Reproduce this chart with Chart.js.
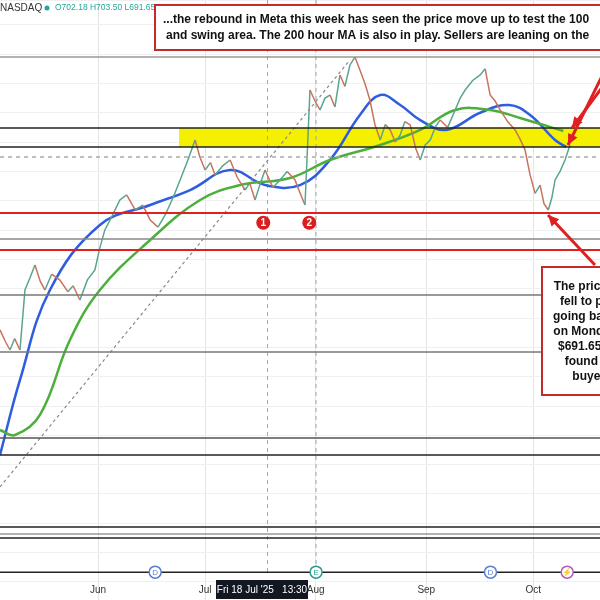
<!DOCTYPE html>
<html>
<head>
<meta charset="utf-8">
<script src="https://cdn.jsdelivr.net/npm/chart.js@4"></script>
<style>
  html, body { margin: 0; padding: 0; background: #fff; }
  #wrap { width: 600px; height: 600px; }
</style>
</head>
<body>
<div id="wrap"><canvas id="metaChart"></canvas></div>
<script>
// x values are days counted from 1 May 2025
const priceDays = [3.5, 5, 6.3, 7.6, 9.1, 10.5, 12, 13.3, 14.8, 16.1, 18, 20.3, 22.5, 24, 25.9, 28, 30.1, 31.5, 32.9, 35, 37.1, 39, 41.4, 43.5, 45.6, 47.8, 49.8, 52, 54, 56.2, 58.2, 59.5, 61, 62.5, 63.8, 66, 68, 70, 72.2, 73.5, 75, 76.5, 77.8, 80, 82, 84, 86.2, 87.5, 89, 90.4, 91.8, 93.2, 94.6, 96, 97.4, 98.8, 100.2, 101.6, 103, 104.4, 105.8, 107.2, 108.6, 110.1, 111.5, 112.9, 114.3, 115.7, 117, 118.5, 120, 121.3, 122.7, 124.1, 125.5, 126.9, 129, 131.1, 132.5, 133.9, 136, 138.1, 139.5, 140.9, 142.3, 143.7, 145.8, 147.9, 149.3, 150.7, 151.4, 152.1, 153.5, 154.9, 156, 157.2, 158.2, 159.1, 160.5, 161.9, 163.3];
const closes = [611.9, 604, 598.2, 606, 598.2, 639.1, 648, 656.2, 645, 639.1, 650, 645.9, 638, 642, 632.3, 646, 652.8, 668, 680.1, 690, 700.5, 704, 693.7, 697, 686.9, 682, 690.3, 702, 714.2, 728, 741.4, 730, 721.0, 726, 717.6, 724, 727.8, 716, 707.3, 712, 700.5, 712, 721.0, 709, 714.2, 720, 714.2, 706, 697.1, 775.5, 768, 761.9, 770, 772.1, 764, 785.8, 778, 792.6, 798, 789.2, 780, 768.7, 752, 741.4, 752, 748.3, 740, 744.9, 754, 751.7, 736, 727.8, 738, 741.4, 750, 755.1, 750, 761.9, 770, 775.5, 782, 785.8, 790, 772.1, 768, 761.9, 754, 748.3, 742, 734.6, 726, 717.6, 705, 710.7, 698, 693.7, 702, 714.2, 720, 727.8, 738.2];

const ma100Days = [3.5, 9.1, 17.5, 31.5, 45.6, 56.8, 68.0, 77.8, 87.6, 96.0, 104.4, 110.1, 115.7, 121.3, 128.6, 138.1, 146.2, 152.1, 159.1, 162.2];
const ma100 = [526.6, 577.8, 639.1, 683.5, 697.1, 707.3, 721.0, 710.7, 710.7, 727.8, 758.5, 772.1, 765.3, 755.0, 748.3, 760.0, 765.3, 758.5, 741.4, 736.7];

const ma200Days = [3.5, 7.7, 14.7, 23.1, 31.5, 45.6, 59.6, 70.8, 84.8, 96.0, 110.1, 121.3, 131.1, 140.9, 149.3, 161.4];
const ma200 = [543.6, 540.2, 553.9, 605.0, 639.1, 673.2, 700.5, 710.7, 715.5, 727.8, 738.0, 748.3, 761.9, 761.9, 756.4, 747.6];

const trendDays = [3.5, 101.6];
const trendPrices = [504.8, 796.0];

const levels = [798.0, 749.6, 736.7, 729.8, 691.65, 673.9, 666.4, 635.7, 596.9, 538.2, 526.6, 477.5, 472.7, 470.0, 446.7];
const levelColors = ["#999", "#222", "#222", "#aaa", "#e02020", "#888", "#e02020", "#777", "#777", "#555", "#222", "#222", "#999", "#222", "#222"];
const zoneLow = 736.7, zoneHigh = 749.6, zoneStart = 53.7;

const monthDays = [31, 61, 92, 123, 153];
const monthLabels = ["Jun", "Jul", "Aug", "Sep", "Oct"];
const swingDays = [77.3, 90.2];
const swingLabels = ["1", "2"];
const swingPrice = 685;

const xMin = 3.5, xMax = 171.7, yMin = 427.7, yMax = 836.9;

const toPts = (xs, ys) => xs.map((x, i) => ({ x: x, y: ys[i] }));

const levelSets = levels.map((lv, i) => ({
  data: [{ x: xMin, y: lv }, { x: xMax, y: lv }],
  borderColor: levelColors[i],
  borderWidth: levelColors[i] === "#e02020" ? 2 : 1.5,
  borderDash: i === 3 ? [4, 4] : [],
  pointRadius: 0,
}));

const overlay = {
  id: "overlay",
  beforeDatasetsDraw(chart) {
    const { ctx, scales: { x, y } } = chart;
    ctx.save();
    ctx.fillStyle = "#f4f000";
    ctx.fillRect(x.getPixelForValue(zoneStart), y.getPixelForValue(zoneHigh),
      chart.width, y.getPixelForValue(zoneLow) - y.getPixelForValue(zoneHigh));
    // dashed verticals
    ctx.strokeStyle = "#9ab";
    ctx.setLineDash([4, 4]);
    [78.5, 92.1].forEach((d) => {
      ctx.beginPath();
      ctx.moveTo(x.getPixelForValue(d), 0);
      ctx.lineTo(x.getPixelForValue(d), 575);
      ctx.stroke();
    });
    ctx.restore();
  },
  afterDatasetsDraw(chart) {
    const { ctx, scales: { x, y } } = chart;
    ctx.save();
    // swing markers
    swingDays.forEach((d, i) => {
      const px = x.getPixelForValue(d), py = y.getPixelForValue(swingPrice);
      ctx.fillStyle = "#d81e1e";
      ctx.beginPath(); ctx.arc(px, py, 7, 0, Math.PI * 2); ctx.fill();
      ctx.fillStyle = "#fff"; ctx.font = "bold 10px Arial";
      ctx.textAlign = "center"; ctx.textBaseline = "middle";
      ctx.fillText(swingLabels[i], px, py + 1);
    });
    // event markers on bottom line
    const by = y.getPixelForValue(levels[levels.length - 1]);
    [[47, "D", "#5a7fd0"], [92.1, "E", "#2a9d8f"], [141, "D", "#5a7fd0"], [162.5, "\u26A1", "#b05cc0"]].forEach(([d, t, c]) => {
      const px = x.getPixelForValue(d);
      ctx.fillStyle = "#fff"; ctx.strokeStyle = c; ctx.lineWidth = 1.5;
      ctx.beginPath(); ctx.arc(px, by, 6, 0, Math.PI * 2); ctx.fill(); ctx.stroke();
      ctx.fillStyle = c; ctx.font = "8px Arial"; ctx.textAlign = "center"; ctx.textBaseline = "middle";
      ctx.fillText(t, px, by + 1);
    });
    // month labels
    ctx.fillStyle = "#333"; ctx.font = "10px Arial"; ctx.textAlign = "center"; ctx.textBaseline = "middle";
    monthDays.forEach((d, i) => ctx.fillText(monthLabels[i], x.getPixelForValue(d), 590));
    // crosshair date label
    ctx.fillStyle = "#131722";
    ctx.fillRect(216, 580, 92, 19);
    ctx.fillStyle = "#fff"; ctx.font = "10px Arial";
    ctx.fillText("Fri 18 Jul '25   13:30", 262, 590);
    // header
    ctx.textAlign = "left";
    ctx.fillStyle = "#333"; ctx.font = "10px Arial";
    ctx.fillText("NASDAQ", 0, 8);
    ctx.fillStyle = "#26a69a";
    ctx.beginPath(); ctx.arc(47, 8, 2.5, 0, Math.PI * 2); ctx.fill();
    ctx.font = "8.5px Arial";
    ctx.fillText("O702.18 H703.50 L691.65", 55, 8);
    // top note box
    ctx.fillStyle = "#fff"; ctx.fillRect(155, 5, 460, 45);
    ctx.strokeStyle = "#c42a2a"; ctx.lineWidth = 2; ctx.strokeRect(155, 5, 460, 45);
    ctx.fillStyle = "#111"; ctx.font = "bold 12px Arial";
    ctx.fillText("...the rebound in Meta this week has seen the price move up to test the 100", 163, 20);
    ctx.fillText("and swing area. The 200 hour MA is also in play. Sellers are leaning on the", 166, 36);
    // right note box
    ctx.fillStyle = "#fff"; ctx.fillRect(542, 267, 120, 128);
    ctx.strokeRect(542, 267, 120, 128);
    ctx.fillStyle = "#111"; ctx.textAlign = "center"; ctx.font = "bold 12px Arial";
    ["The price low", "fell to price", "going back to", "on Monday at", "$691.65 and", "found dip", "buyers"]
      .forEach((t, i) => ctx.fillText(t, 592, 287 + i * 15));
    // arrows
    ctx.strokeStyle = "#e02020"; ctx.fillStyle = "#e02020"; ctx.lineWidth = 3;
    const arrow = (x1, y1, x2, y2) => {
      const a = Math.atan2(y2 - y1, x2 - x1);
      ctx.beginPath(); ctx.moveTo(x1, y1); ctx.lineTo(x2, y2); ctx.stroke();
      ctx.beginPath(); ctx.moveTo(x2, y2);
      ctx.lineTo(x2 - 12 * Math.cos(a - 0.45), y2 - 12 * Math.sin(a - 0.45));
      ctx.lineTo(x2 - 12 * Math.cos(a + 0.45), y2 - 12 * Math.sin(a + 0.45));
      ctx.closePath(); ctx.fill();
    };
    arrow(595, 265, 548, 215);
    arrow(605, 70, 568, 145);
    arrow(615, 70, 572, 128);
    ctx.restore();
  },
};

new Chart(document.getElementById("metaChart"), {
  type: "line",
  data: {
    datasets: [
      ...levelSets,
      {
        data: toPts(trendDays, trendPrices),
        borderColor: "#888", borderWidth: 1.2, borderDash: [3, 3], pointRadius: 0,
      },
      {
        data: toPts(priceDays, closes),
        borderWidth: 1.5, pointRadius: 0,
        segment: {
          borderColor: (c) => (c.p1.parsed.y >= c.p0.parsed.y ? "#5aa590" : "#c8735e"),
        },
      },
      {
        data: toPts(ma200Days, ma200),
        borderColor: "#4caf3c", borderWidth: 2.5, pointRadius: 0, tension: 0.4,
      },
      {
        data: toPts(ma100Days, ma100),
        borderColor: "#2f5de0", borderWidth: 2.5, pointRadius: 0, tension: 0.4,
      },
    ],
  },
  options: {
    responsive: true,
    maintainAspectRatio: false,
    animation: false,
    layout: { padding: 0 },
    plugins: { legend: { display: false }, tooltip: { enabled: false } },
    scales: {
      x: {
        type: "linear", min: xMin, max: xMax,
        ticks: { display: false },
        border: { display: false },
        grid: { color: "#e4e4e4", drawTicks: false },
        afterBuildTicks: (axis) => { axis.ticks = monthDays.map((v) => ({ value: v })); },
      },
      y: {
        min: yMin, max: yMax,
        ticks: { display: false, stepSize: 20 },
        border: { display: false },
        grid: { color: "#f0f0f0", drawTicks: false },
      },
    },
  },
  plugins: [overlay],
});
</script>
</body>
</html>
